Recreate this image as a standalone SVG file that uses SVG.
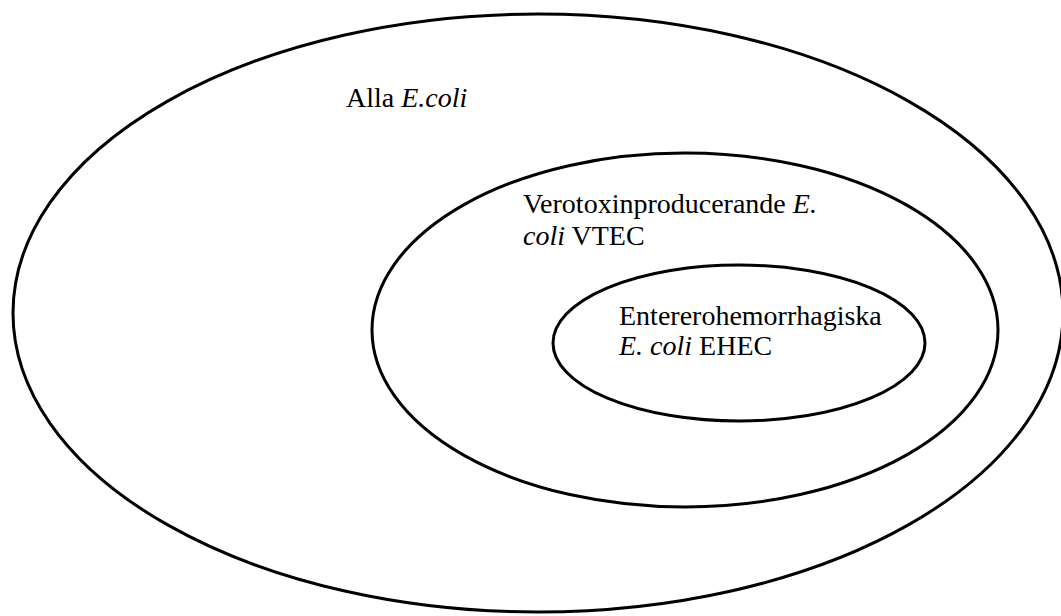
<svg xmlns="http://www.w3.org/2000/svg" width="1061" height="616" viewBox="0 0 1061 616">
<style>
.e{fill:none;stroke:#000;stroke-width:3}
text{font-family:"Liberation Serif","Times New Roman",serif;font-size:28px;fill:#000}
.i{font-style:italic}
</style>
<rect width="1061" height="616" fill="#fff"/>
<g id="outer">
<ellipse class="e" cx="538" cy="313" rx="525" ry="299"/>
<text x="346" y="107">Alla <tspan class="i">E.coli</tspan></text>
</g>
<g id="vtec">
<ellipse class="e" cx="685" cy="330" rx="313" ry="177"/>
<text x="523" y="213">Verotoxinproducerande <tspan class="i">E.</tspan></text>
<text x="523" y="245"><tspan class="i">coli</tspan> VTEC</text>
</g>
<g id="ehec">
<ellipse class="e" cx="739" cy="343" rx="186" ry="78"/>
<text x="619" y="325">Entererohemorrhagiska</text>
<text x="619" y="355"><tspan class="i">E. coli</tspan> EHEC</text>
</g>
<g id="connectors"></g>
</svg>
